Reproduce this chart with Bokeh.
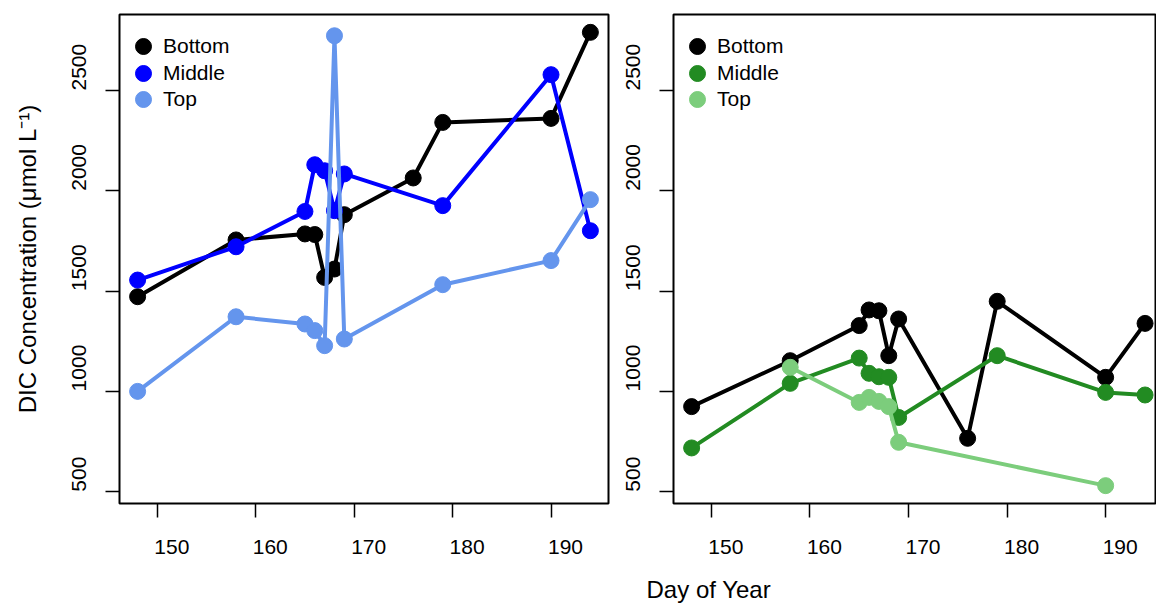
from bokeh.plotting import figure
from bokeh.models import (Range1d, FixedTicker, LinearAxis, Legend, LegendItem,
                          Label, CustomJSTickFormatter)
from bokeh.layouts import row, column
from bokeh.embed import file_html
from bokeh.resources import INLINE

# ---------------- data ----------------
x_ticks = [150, 160, 170, 180, 190]
y_ticks = [500, 1000, 1500, 2000, 2500]
series_names = ["Bottom", "Middle", "Top"]

# left panel
left_bottom_days = [148, 158, 165, 166, 167, 168, 169, 176, 179, 190, 194]
left_bottom_vals = [1472, 1755, 1785, 1782, 1568, 1610, 1881, 2064, 2341, 2361, 2790]
left_middle_days = [148, 158, 165, 166, 167, 168, 169, 179, 190, 194]
left_middle_vals = [1555, 1721, 1897, 2130, 2100, 1901, 2084, 1926, 2579, 1801]
left_top_days = [148, 158, 165, 166, 167, 168, 169, 179, 190, 194]
left_top_vals = [1000, 1372, 1336, 1303, 1228, 2773, 1261, 1532, 1652, 1956]

# right panel
right_bottom_days = [148, 158, 165, 166, 167, 168, 169, 176, 179, 190, 194]
right_bottom_vals = [924, 1153, 1328, 1406, 1402, 1178, 1361, 766, 1449, 1070, 1339]
right_middle_days = [148, 158, 165, 166, 167, 168, 169, 179, 190, 194]
right_middle_vals = [718, 1040, 1166, 1090, 1073, 1070, 870, 1178, 995, 982]
right_top_days = [158, 165, 166, 167, 168, 169, 190]
right_top_vals = [1120, 945, 970, 950, 924, 746, 530]

left_colors = ["#000000", "#0000FF", "#6495ED"]
right_colors = ["#000000", "#228B22", "#7CCD7C"]

x_title = "Day of Year"
y_title = "DIC Concentration (\u03bcmol L\u207b\u00b9)"

# ---------------- styling / layout ----------------
FONT = "Liberation Sans"
TICK_PX = 21
X0 = 146.16
Y0, Y1 = 441.0, 2879.0
FRAME_H = 489
PANEL_H = 564
DIGIT_W = 0.5562  # advance of a digit, in em
LEGEND_ROWS = [31.8, 58.5, 84.8]  # row centres below frame top (px)


def make_panel(width, min_left, min_right, frame_w, x_end, series, colors, ytitle=None):
    p = figure(width=width, height=PANEL_H, x_range=Range1d(X0, x_end), y_range=Range1d(Y0, Y1),
               output_backend="svg", toolbar_location=None,
               min_border_left=min_left, min_border_right=min_right,
               min_border_top=14, min_border_bottom=PANEL_H - 14 - FRAME_H)
    p.grid.visible = False
    p.outline_line_color = "black"
    p.outline_line_width = 2
    p.background_fill_color = "white"
    p.border_fill_color = "white"

    px_x = frame_w / (x_end - X0)
    px_y = FRAME_H / (Y1 - Y0)

    blank = CustomJSTickFormatter(code="return ''")
    for ax, ticks in ((p.xaxis[0], x_ticks), (p.yaxis[0], y_ticks)):
        ax.ticker = FixedTicker(ticks=ticks)
        ax.formatter = blank
        ax.major_label_text_font_size = "0px"
        ax.major_label_standoff = 0
        ax.major_tick_out = 14
        ax.major_tick_in = 0
        ax.major_tick_line_width = 1.5
        ax.major_tick_line_color = "black"
        ax.minor_tick_line_color = None
        ax.axis_line_color = None

    # tick labels start at their tick (as in the reference)
    xl = [round(t + (len(str(t)) * DIGIT_W * TICK_PX / 2 - 3) / px_x, 4) for t in x_ticks]
    xlab = LinearAxis(ticker=FixedTicker(ticks=xl),
                      major_label_overrides={pos: str(t) for pos, t in zip(xl, x_ticks)},
                      axis_line_color=None, major_tick_line_color=None,
                      minor_tick_line_color=None, major_label_standoff=16,
                      major_label_text_font_size=f"{TICK_PX}px",
                      major_label_text_font=FONT, major_label_text_color="black")
    p.add_layout(xlab, "below")

    yl = [round(t + (len(str(t)) * DIGIT_W * TICK_PX / 2) / px_y, 4) for t in y_ticks]
    ylab = LinearAxis(ticker=FixedTicker(ticks=yl),
                      major_label_overrides={pos: str(t) for pos, t in zip(yl, y_ticks)},
                      axis_line_color=None, major_tick_line_color=None,
                      minor_tick_line_color=None, major_label_standoff=13,
                      major_label_orientation="vertical",
                      major_label_text_font_size=f"{TICK_PX}px",
                      major_label_text_font=FONT, major_label_text_color="black")
    if ytitle:
        ylab.axis_label = ytitle
        ylab.axis_label_text_font = FONT
        ylab.axis_label_text_font_size = "24px"
        ylab.axis_label_text_font_style = "normal"
        ylab.axis_label_text_color = "black"
        ylab.axis_label_standoff = 29
    p.add_layout(ylab, "left")

    for (name, days, vals), color, row_c in zip(series, colors, LEGEND_ROWS):
        p.line(days, vals, line_color=color, line_width=4)
        r = p.scatter(days, vals, size=16, fill_color=color, line_color=color)
        legend = Legend(items=[LegendItem(label=name, renderers=[r])],
                        location=(4, round(FRAME_H - 20 - row_c, 1)),
                        glyph_width=40, glyph_height=40,
                        padding=0, margin=0, label_standoff=0,
                        border_line_color=None, background_fill_alpha=0,
                        label_text_font=FONT, label_text_font_size="21px",
                        label_text_color="black")
        p.add_layout(legend)
    return p


left_series = [(series_names[0], left_bottom_days, left_bottom_vals),
               (series_names[1], left_middle_days, left_middle_vals),
               (series_names[2], left_top_days, left_top_vals)]
right_series = [(series_names[0], right_bottom_days, right_bottom_vals),
                (series_names[1], right_middle_days, right_middle_vals),
                (series_names[2], right_top_days, right_top_vals)]

TOTAL_W, TOTAL_H = 1156, 604
LEFT_W, LEFT_FRAME = 614, 489
RIGHT_W, RIGHT_FRAME, RIGHT_BL = TOTAL_W - LEFT_W, 483, 59

p1 = make_panel(LEFT_W, 119, LEFT_W - 119 - LEFT_FRAME, LEFT_FRAME, X0 + 49.68,
                left_series, left_colors, ytitle=y_title)
p2 = make_panel(RIGHT_W, RIGHT_BL, 0, RIGHT_FRAME, X0 + RIGHT_FRAME / 9.857,
                right_series, right_colors)

# strip below both panels carrying the shared x-axis title (1 data unit = 1 px)
strip_h = TOTAL_H - PANEL_H
p3 = figure(width=TOTAL_W, height=strip_h, x_range=Range1d(0, TOTAL_W),
            y_range=Range1d(0, strip_h), output_backend="svg", toolbar_location=None,
            x_axis_location=None, y_axis_location=None, min_border=0)
p3.grid.visible = False
p3.outline_line_color = None
p3.background_fill_color = "white"
p3.border_fill_color = "white"
p3.add_layout(Label(x=708.3, y=strip_h - (597.3 - PANEL_H) + 8, text=x_title,
                    text_align="center", text_baseline="alphabetic",
                    text_font=FONT, text_font_size="24px", text_color="black"))

layout = column(row(p1, p2, spacing=0), p3, spacing=0)
open("out.html", "w").write(file_html(layout, INLINE))
